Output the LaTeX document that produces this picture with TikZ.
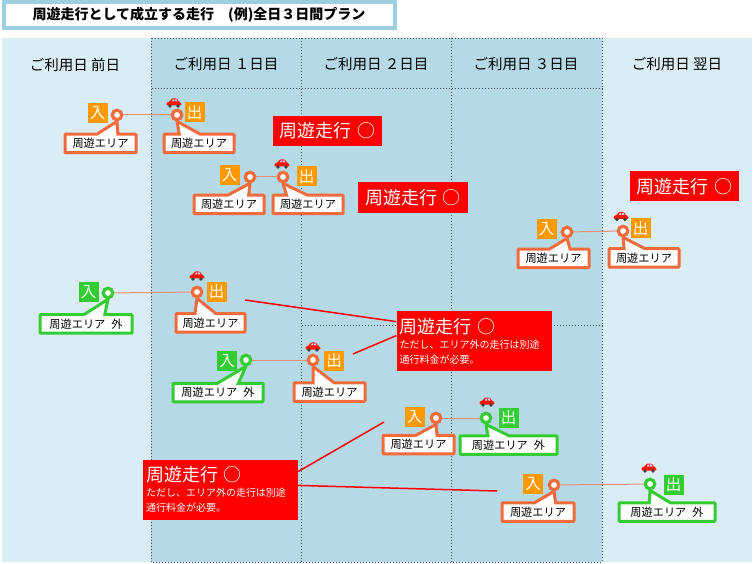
\documentclass[tikz,border=0pt]{standalone}
\usepackage{fontspec}
\setmainfont{Noto Sans CJK JP}
\usepackage{xcolor}
\usetikzlibrary{shapes.callouts}
\definecolor{band_light}{HTML}{DAEDF4}
\definecolor{band_dark}{HTML}{B5DAE6}
\definecolor{title_edge}{HTML}{9CD0E0}
\definecolor{area_in}{HTML}{F26B3C}
\definecolor{area_out}{HTML}{33CC33}
\definecolor{tag_orange}{HTML}{FF9900}
\definecolor{link_line}{HTML}{E98E72}
\definecolor{grid_line}{HTML}{3F4F5A}
\begin{document}
\begin{tikzpicture}[
    x=1pt, y=-1pt,
    day_label/.style = {font=\fontsize{14.5}{16}\selectfont, text=black, inner sep=0pt},
    pin/.style = {draw=#1, circle, fill=white, line width=3.2pt, minimum size=9.5pt, inner sep=0pt},
    tag/.style = {fill=#1, text=white, minimum size=20pt, inner sep=0pt, font=\fontsize{15.5}{16}\selectfont},
    area/.style = {rectangle callout, draw=#1, fill=white, line width=3pt, rounded corners=0.8pt,
        callout pointer width=21pt, inner sep=0pt, minimum height=18.5pt, text=black,
        font=\fontsize{11.2}{13}\selectfont},
    note/.style = {fill=red, text=white, inner sep=0pt, font=\fontsize{18}{20}\selectfont},
    note_long/.style = {note, align=left, text width=149pt, inner xsep=3pt, minimum height=60pt},
    link/.style = {link_line, line width=1pt},
    lead/.style = {red, line width=1.5pt},
    grid_dots/.style = {grid_line, dash pattern=on 1pt off 2pt, line width=1pt},
    car/.pic = {
        \fill[red!85!orange, rounded corners=1.2pt] (-7.5,2.5) -- (-7.5,-0.5) -- (-4,-1.5) -- (-2.5,-4.5)
            -- (3,-4.5) -- (5,-1) -- (7.5,0) -- (7.5,2.5) -- cycle;
        \fill[white!80!blue] (-2,-1.5) -- (-1.2,-3.6) -- (0,-3.6) -- (0,-1.5) -- cycle
            (0.8,-1.5) -- (0.8,-3.6) -- (2.5,-3.6) -- (3.6,-1.5) -- cycle;
        \fill[black!75] (-4,3) circle (1.8pt) (4,3) circle (1.8pt);
    }
]
    \useasboundingbox (0,0) rectangle (753,564);

    % bands
    \fill[band_light] (2,38) rectangle (752,562);
    \fill[band_dark] (151,38) rectangle (602,562);
    \draw[grid_dots] (151.5,38.5) rectangle (602,562);
    \draw[grid_dots] (301.5,38.5) -- (301.5,562);
    \draw[grid_dots] (451.5,38.5) -- (451.5,562);
    \draw[grid_dots] (151.5,88.5) -- (602,88.5);
    \draw[grid_dots] (301.5,325.5) -- (602,325.5);

    % title
    \node[draw=title_edge, line width=4pt, fill=white, minimum width=391pt, minimum height=26pt, inner sep=0pt,
        font=\fontsize{14}{15}\selectfont\bfseries] (title) at (199,15) {周遊走行として成立する走行\hspace{14pt}(例)全日３日間プラン\hspace{14pt}};

    \node[day_label] (day0) at (75,64.5) {ご利用日 前日};
    \node[day_label] (day1) at (226,64.5) {ご利用日 １日目};
    \node[day_label] (day2) at (376,64.5) {ご利用日 ２日目};
    \node[day_label] (day3) at (526,64.5) {ご利用日 ３日目};
    \node[day_label] (day4) at (677,64.5) {ご利用日 翌日};

    % pins and links
    \node[pin=area_in] (inA) at (117,115) {};
    \node[pin=area_in] (outA) at (177,115) {};
    \draw[link] (inA) -- (outA);
    \node[pin=area_in] (inB) at (250,177) {};
    \node[pin=area_in] (outB) at (283,177) {};
    \draw[link] (inB) -- (outB);
    \node[pin=area_in] (inC) at (567,232) {};
    \node[pin=area_in] (outC) at (623,231) {};
    \draw[link] (inC) -- (outC);
    \node[pin=area_out] (inD) at (108,293) {};
    \node[pin=area_in] (outD) at (197,292) {};
    \draw[link] (inD) -- (outD);
    \node[pin=area_out] (inE) at (246,360) {};
    \node[pin=area_in] (outE) at (313,360) {};
    \draw[link] (inE) -- (outE);
    \node[pin=area_in] (inF) at (436,418) {};
    \node[pin=area_out] (outF) at (486,418) {};
    \draw[link] (inF) -- (outF);
    \node[pin=area_in] (inG) at (554,485) {};
    \node[pin=area_out] (outG) at (650,484) {};
    \draw[link] (inG) -- (outG);

    % tags
    \node[tag=tag_orange] (tagInA) at (97.5,113.5) {入};
    \node[tag=tag_orange] (tagOutA) at (194.5,112.5) {出};
    \node[tag=tag_orange] (tagInB) at (229.5,175.5) {入};
    \node[tag=tag_orange] (tagOutB) at (306.5,176.5) {出};
    \node[tag=tag_orange] (tagInC) at (546.5,229.5) {入};
    \node[tag=tag_orange] (tagOutC) at (640.5,228.5) {出};
    \node[tag=area_out] (tagInD) at (88.5,292.5) {入};
    \node[tag=tag_orange] (tagOutD) at (216.5,292) {出};
    \node[tag=area_out] (tagInE) at (227,361) {入};
    \node[tag=tag_orange] (tagOutE) at (334,361) {出};
    \node[tag=tag_orange] (tagInF) at (414.5,417) {入};
    \node[tag=area_out] (tagOutF) at (508.5,418) {出};
    \node[tag=tag_orange] (tagInG) at (533,484) {入};
    \node[tag=area_out] (tagOutG) at (673.5,485) {出};

    % area boxes
    \node[area=area_in, minimum width=71pt, callout absolute pointer={(inA.south)}] (areaInA) at (100.5,143.5) {周遊エリア};
    \node[area=area_in, minimum width=70pt, callout absolute pointer={(outA.south)}] (areaOutA) at (199,143.5) {周遊エリア};
    \node[area=area_in, minimum width=70pt, callout absolute pointer={(inB.south)}] (areaInB) at (229,204.5) {周遊エリア};
    \node[area=area_in, minimum width=70pt, callout absolute pointer={(outB.south)}] (areaOutB) at (308,204.5) {周遊エリア};
    \node[area=area_in, minimum width=71pt, callout absolute pointer={(inC.south)}] (areaInC) at (553.5,258.5) {周遊エリア};
    \node[area=area_in, minimum width=70pt, callout absolute pointer={(outC.south)}] (areaOutC) at (644,258) {周遊エリア};
    \node[area=area_out, minimum width=92pt, callout absolute pointer={(inD.south)}] (areaInD) at (86,324) {周遊エリア\hspace{6pt}外};
    \node[area=area_in, minimum width=69pt, callout absolute pointer={(outD.south)}] (areaOutD) at (210.5,323) {周遊エリア};
    \node[area=area_out, minimum width=90pt, callout absolute pointer={(inE.south)}] (areaInE) at (218,392.5) {周遊エリア\hspace{6pt}外};
    \node[area=area_in, minimum width=71pt, callout absolute pointer={(outE.south)}] (areaOutE) at (329.5,392) {周遊エリア};
    \node[area=area_in, minimum width=71pt, callout absolute pointer={(inF.south)}] (areaInF) at (418.5,444.5) {周遊エリア};
    \node[area=area_out, minimum width=97pt, callout absolute pointer={(outF.south)}] (areaOutF) at (508.5,445) {周遊エリア\hspace{6pt}外};
    \node[area=area_in, minimum width=72pt, callout absolute pointer={(inG.south)}] (areaInG) at (538,512) {周遊エリア};
    \node[area=area_out, minimum width=96pt, callout absolute pointer={(outG.south)}] (areaOutG) at (667,512) {周遊エリア\hspace{6pt}外};

    % cars
    \pic at (174,103) {car};
    \pic at (282,164) {car};
    \pic at (621,216.5) {car};
    \pic at (197,276) {car};
    \pic at (313,347) {car};
    \pic at (487,402) {car};
    \pic at (649,468) {car};

    % notes
    \node[note, minimum width=109pt, minimum height=30pt] (noteA) at (327.5,131) {周遊走行\hspace{6pt}○};
    \node[note, minimum width=110pt, minimum height=31pt] (noteB) at (413,197.5) {周遊走行\hspace{6pt}○};
    \node[note, minimum width=109pt, minimum height=30pt] (noteC) at (684.5,186.5) {周遊走行\hspace{6pt}○};
    \node[note_long] (noteD) at (474,341) {周遊走行\hspace{6pt}○\par{\fontsize{10}{15}\selectfont ただし、エリア外の走行は別途\\通行料金が必要。\par}};
    \node[note_long] (noteE) at (220.5,489.5) {周遊走行\hspace{6pt}○\par{\fontsize{10}{15}\selectfont ただし、エリア外の走行は別途\\通行料金が必要。\par}};

    % leads
    \coordinate (leadDa) at (245,300);
    \coordinate (leadDb) at (353,354);
    \coordinate (leadEa) at (384,422);
    \coordinate (leadEb) at (497,491);
    \draw[lead] (leadDa) -- (noteD.166);
    \draw[lead] (leadDb) -- (noteD.176);
    \draw[lead] (leadEa) -- (noteE.13);
    \draw[lead] (leadEb) -- (noteE.3);
\end{tikzpicture}
\end{document}
